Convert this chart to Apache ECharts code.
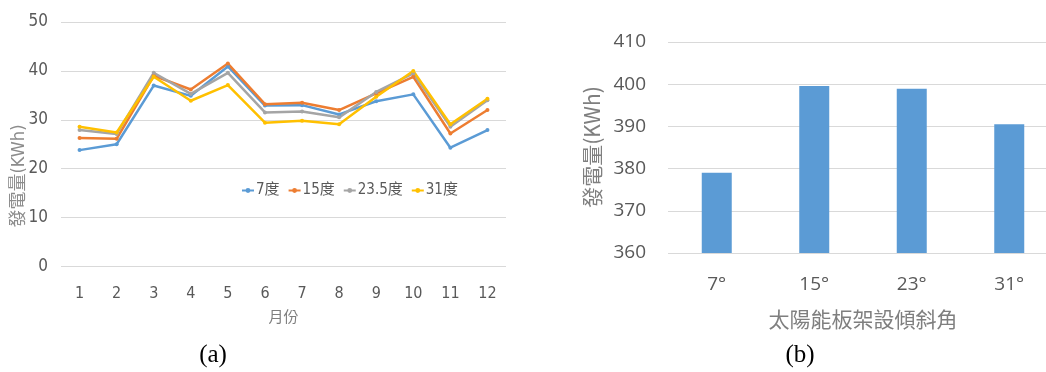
<!DOCTYPE html>
<html>
<head>
<meta charset="utf-8">
<script src="https://cdn.jsdelivr.net/npm/echarts@6/dist/echarts.min.js"></script>
<style>
  html, body { margin: 0; padding: 0; background: #fff; overflow: hidden; }
  #chart { width: 1058px; height: 372px; }
</style>
</head>
<body>
<div id="chart"></div>
<script>
// Monthly generation by tilt angle (chart a)
const months = ['1', '2', '3', '4', '5', '6', '7', '8', '9', '10', '11', '12'];
const seriesNames = ['7度', '15度', '23.5度', '31度'];
const tilt7 = [23.8, 25.0, 37.0, 34.9, 40.9, 32.9, 33.0, 31.1, 33.8, 35.2, 24.3, 27.9];
const tilt15 = [26.3, 26.1, 39.0, 36.2, 41.5, 33.2, 33.5, 32.0, 35.4, 38.8, 27.2, 32.0];
const tilt23_5 = [27.9, 27.1, 39.6, 35.3, 39.6, 31.5, 31.7, 30.5, 35.7, 39.5, 28.6, 34.0];
const tilt31 = [28.6, 27.4, 38.8, 33.9, 37.1, 29.4, 29.8, 29.1, 34.7, 40.0, 29.1, 34.3];
const leftTicks = [0, 10, 20, 30, 40, 50];

// Annual generation by tilt angle (chart b)
const angles = ['7°', '15°', '23°', '31°'];
const annualKWh = [379.0, 399.6, 398.9, 390.5];
const rightTicks = [360, 370, 380, 390, 400, 410];

const colors = ['#5B9BD5', '#ED7D31', '#A5A5A5', '#FFC000'];
const narrow = '"Liberation Sans Narrow", "DejaVu Sans Condensed", "Noto Sans CJK TC", sans-serif';
const plain = '"Open Sans", "Noto Sans", "Noto Sans CJK TC", sans-serif';
const serif = '"Liberation Serif", "DejaVu Serif", serif';

const lineData = [tilt7, tilt15, tilt23_5, tilt31];

// the page is 1046px wide; the bar panel's plot runs slightly past the right edge
const chart = echarts.init(document.getElementById('chart'), null, { renderer: 'canvas' });

chart.setOption({
  backgroundColor: '#ffffff',
  animation: false,
  color: colors,
  legend: {
    data: seriesNames,
    left: 236,
    top: 178,
    itemWidth: 12,
    itemHeight: 6,
    itemGap: 8,
    textStyle: { fontFamily: narrow, fontSize: 15, color: '#595959', padding: [0, 0, 0, -3] }
  },
  grid: [
    { left: 61, right: 552, top: 22, bottom: 105.5 },
    { left: 668, right: 0, top: 42, bottom: 119 }
  ],
  xAxis: [
    {
      gridIndex: 0,
      type: 'category',
      data: months,
      boundaryGap: true,
      axisLine: { show: false },
      axisTick: { show: false },
      axisLabel: { fontFamily: narrow, fontSize: 16, color: '#595959', margin: 19 },
      name: '月份',
      nameLocation: 'middle',
      nameGap: 44,
      nameTextStyle: { fontFamily: narrow, fontSize: 15, color: '#7f7f7f' }
    },
    {
      gridIndex: 1,
      type: 'category',
      data: angles,
      axisLine: { show: false },
      axisTick: { show: false },
      axisLabel: { fontFamily: plain, fontSize: 19, color: '#595959', margin: 22 },
      name: '太陽能板架設傾斜角',
      nameLocation: 'middle',
      nameGap: 56,
      nameTextStyle: { fontFamily: '"Noto Sans CJK TC", sans-serif', fontSize: 21, color: '#7f7f7f' }
    }
  ],
  yAxis: [
    {
      gridIndex: 0,
      type: 'value',
      min: leftTicks[0],
      max: leftTicks[leftTicks.length - 1],
      interval: 10,
      axisLine: { show: false },
      axisTick: { show: false },
      splitLine: { lineStyle: { color: '#d9d9d9', width: 1 } },
      axisLabel: { fontFamily: narrow, fontSize: 17, color: '#595959', margin: 13 }
    },
    {
      gridIndex: 1,
      type: 'value',
      min: rightTicks[0],
      max: rightTicks[rightTicks.length - 1],
      interval: 10,
      axisLine: { show: false },
      axisTick: { show: false },
      splitLine: { lineStyle: { color: '#d9d9d9', width: 1 } },
      axisLabel: { fontFamily: plain, fontSize: 19, color: '#595959', margin: 22 }
    }
  ],
  series: seriesNames.map((name, i) => ({
    name: name,
    type: 'line',
    xAxisIndex: 0,
    yAxisIndex: 0,
    data: lineData[i],
    symbol: 'circle',
    symbolSize: 4,
    lineStyle: { width: 2.5, color: colors[i] },
    itemStyle: { color: colors[i] }
  })).concat([{
    name: 'annual',
    type: 'bar',
    xAxisIndex: 1,
    yAxisIndex: 1,
    data: annualKWh,
    barWidth: 30,
    itemStyle: { color: '#5B9BD5' }
  }]),
  graphic: [
    {
      type: 'text',
      x: 19, y: 176,
      rotation: Math.PI / 2,
      style: {
        text: '發電量(KWh)',
        fontFamily: narrow, fontSize: 18, fill: '#8c8c8c',
        align: 'center', verticalAlign: 'middle'
      }
    },
    {
      type: 'text',
      x: 592, y: 147,
      rotation: Math.PI / 2,
      style: {
        text: '發電量(KWh)',
        fontFamily: '"Noto Sans CJK TC", sans-serif', fontSize: 21, fill: '#7f7f7f',
        align: 'center', verticalAlign: 'middle'
      }
    },
    {
      type: 'text',
      x: 213, y: 355,
      style: {
        text: '(a)',
        fontFamily: serif, fontSize: 25, fill: '#000',
        align: 'center', verticalAlign: 'middle'
      }
    },
    {
      type: 'text',
      x: 800, y: 355,
      style: {
        text: '(b)',
        fontFamily: serif, fontSize: 25, fill: '#000',
        align: 'center', verticalAlign: 'middle'
      }
    }
  ]
});
</script>
</body>
</html>
